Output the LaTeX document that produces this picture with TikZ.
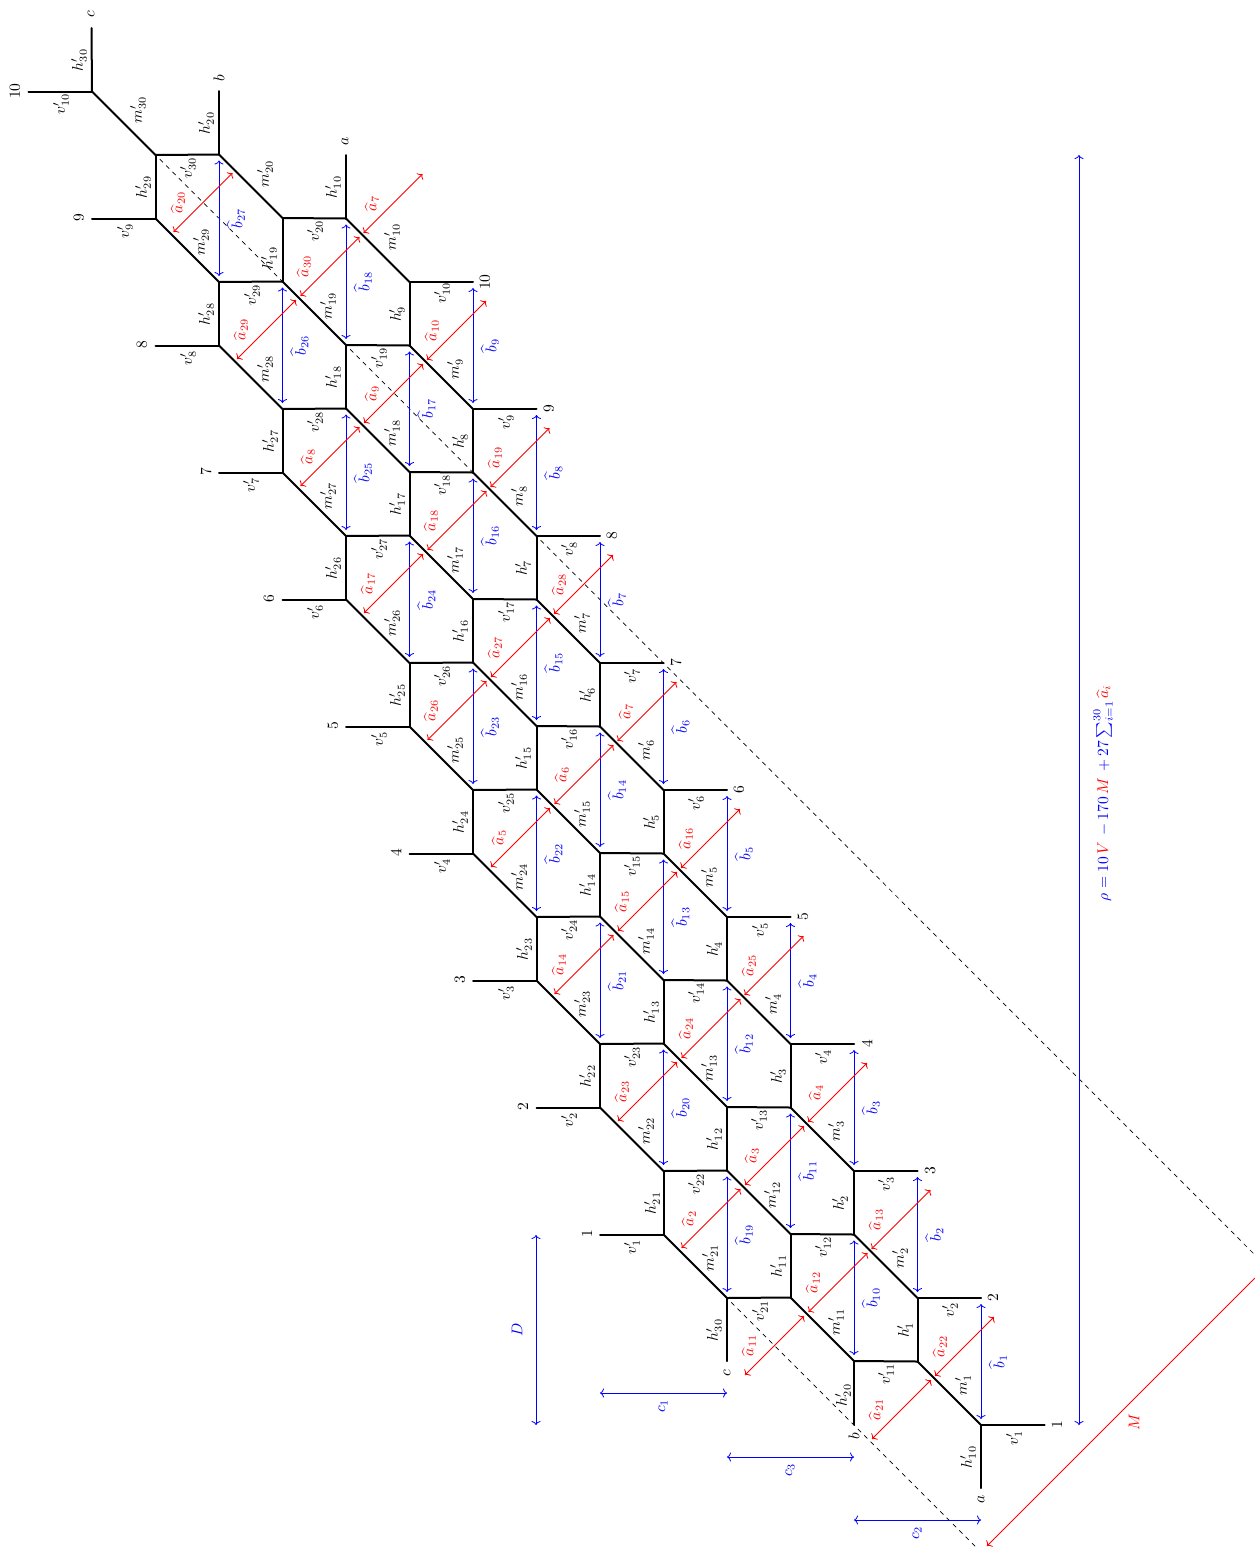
\documentclass[tikz,border=0pt]{standalone}
\usepackage{amsmath}
\usetikzlibrary{arrows.meta}
\tikzset{
  lab/.style={rotate=90,scale=1.55,inner sep=0pt},
  rlab/.style={lab,text=red},
  blab/.style={lab,text=blue},
  hedge/.style={line width=2pt,line cap=round},
  dimln/.style={line width=0.8pt,{To[length=4pt,width=9pt]}-{To[length=4pt,width=9pt]}},
  barr/.style={dimln,draw=blue,shorten >=6pt,shorten <=6pt},
  bdim/.style={dimln,draw=blue},
  rarr/.style={dimln,draw=red},
  dashln/.style={line width=0.7pt,dash pattern=on 4.48pt off 4.48pt}
}
\begin{document}
\begin{tikzpicture}[x=1pt,y=-1pt]
\useasboundingbox (0,0) rectangle (1255,1548);
% lattice
\foreach \i in {1,...,10}{
  \coordinate (PA\i) at ({981-63.5*(\i-1)},{1425-127*(\i-1)});
  \coordinate (QA\i) at ({981-63.5*\i},{1361.5-127*(\i-1)});
  \coordinate (EA\i) at ({1044.5-63.5*(\i-1)},{1425-127*(\i-1)});
  \coordinate (PB\i) at ({854-63.5*(\i-1)},{1361-127*(\i-1)});
  \coordinate (QB\i) at ({854-63.5*\i},{1297.5-127*(\i-1)});
  \coordinate (PC\i) at ({727-63.5*(\i-1)},{1298-127*(\i-1)});
  \coordinate (QC\i) at ({727-63.5*\i},{1234.5-127*(\i-1)});
  \coordinate (LC\i) at ({663.5-63.5*\i},{1234.5-127*(\i-1)});
}
\coordinate (TA) at (346,155);
\coordinate (TB) at (219,91);
\coordinate (TC) at (91.5,28);
\coordinate (BA) at (981,1488);
\coordinate (BB) at (854,1424.5);
\coordinate (BC) at (727,1361);
% honeycomb
\foreach \i in {1,...,10}{
  \draw[hedge] (PA\i) -- (QA\i);
  \draw[hedge] (PB\i) -- (QB\i);
  \draw[hedge] (PC\i) -- (QC\i);
  \draw[hedge] (PA\i) -- (EA\i);
  \draw[hedge] (PB\i) -- (QA\i);
  \draw[hedge] (PC\i) -- (QB\i);
  \draw[hedge] (QC\i) -- (LC\i);
}
\foreach \i in {1,...,9}{
  \pgfmathtruncatemacro\j{\i+1}
  \draw[hedge] (QA\i) -- (PA\j);
  \draw[hedge] (QB\i) -- (PB\j);
  \draw[hedge] (QC\i) -- (PC\j);
}
\draw[hedge] (QA10) -- (TA);
\draw[hedge] (QB10) -- (TB);
\draw[hedge] (QC10) -- (TC);
\draw[hedge] (PA1) -- (BA);
\draw[hedge] (PB1) -- (BB);
\draw[hedge] (PC1) -- (BC);
% dashed
\coordinate (DE3) at (1255,1255);
\coordinate (DE4) at (977,1548);
\draw[dashln,shorten <=6pt] (PC10) -- (QB9);
\draw[dashln,shorten <=6pt] (PB9) -- (QA8);
\draw[dashln,shorten <=6pt] (PA8) -- (DE3);
\draw[dashln,shorten <=6pt] (PC1) -- (DE4);
% blue arrows
\foreach \i [count=\n from 1] in {1,...,9}{
  \pgfmathtruncatemacro\j{\i+1}
  \pgfmathtruncatemacro\t{\i}
  \pgfmathtruncatemacro\u{\i+9}
  \pgfmathtruncatemacro\v{\i+18}
  \draw[barr] (PA\i) -- (EA\j) node[midway,xshift=17pt,blab,name=bh\t] {$\widehat{b}_{\t}$};
  \draw[barr] (PB\i) -- (QA\j) node[midway,xshift=17pt,blab,name=bh\u] {$\widehat{b}_{\u}$};
  \draw[barr] (PC\i) -- (QB\j) node[midway,xshift=17pt,blab,name=bh\v] {$\widehat{b}_{\v}$};
}
% red arrows
\foreach \t/\lx [count=\k from 0] in {22/940,13/876,4/816,25/749,16/686,7/626,28/559,19/495,10/432,7/372}{
  \coordinate (RAs\k) at ({964.5-63.5*\k-29.5},{1346.5-127*\k+29.5});
  \coordinate (RAe\k) at ({964.5-63.5*\k+29.5},{1346.5-127*\k-29.5});
  \draw[rarr] (RAs\k) -- (RAe\k);
  \node[rlab,name=ra\k] at ({\lx},{1346.5-127*\k}) {$\widehat{a}_{\t}$};
}
\foreach \t/\lx [count=\k from 0] in {21/876,12/813,3/752,24/686,15/622,6/562,27/495,18/431,9/372,30/304}{
  \coordinate (RBs\k) at ({901.5-63.5*\k-29.5},{1409.5-127*\k+29.5});
  \coordinate (RBe\k) at ({901.5-63.5*\k+29.5},{1409.5-127*\k-29.5});
  \draw[rarr] (RBs\k) -- (RBe\k);
  \node[rlab,name=rb\k] at ({\lx},{1409.5-127*\k}) {$\widehat{a}_{\t}$};
}
\foreach \t/\lx [count=\k from 0] in {11/749,2/689,23/622,14/559,5/499,26/431,17/368,8/308,29/241,20/178}{
  \coordinate (RCs\k) at ({774.5-63.5*\k-29.5},{1345.5-127*\k+29.5});
  \coordinate (RCe\k) at ({774.5-63.5*\k+29.5},{1345.5-127*\k-29.5});
  \draw[rarr] (RCs\k) -- (RCe\k);
  \node[rlab,name=rc\k] at ({\lx},{1345.5-127*\k}) {$\widehat{a}_{\t}$};
}
% h labels
\foreach \t/\x/\y [count=\n] in {1/905/1330,2/840/1203,3/778/1076,4/714/949,5/651/822,6/587/695,7/523/568,8/460/441,9/397/314,10/968/1457,10/333/187,
 11/778/1266,12/714/1139,13/651/1012,14/587/885,15/523/758,16/460/631,17/397/504,18/333/377,19/269/258,20/843/1395,20/206/123,
 21/652/1203,22/587/1076,23/524/949,24/460/822,25/397/695,26/333/568,27/270/441,28/206/314,29/143/187,30/714/1330,30/79/60}
  \node[lab,name=h\n] at (\x,\y) {$h'_{\t}$};
% v labels
\foreach \t/\x/\y [count=\n] in {1/1014/1438,1/632/1247,2/950/1310,2/569/1120,3/886/1184,3/506/993,4/823/1057,4/442/866,5/760/930,5/379/739,6/696/803,6/315/612,7/632/676,7/251/485,8/569/549,8/188/358,9/506/422,9/125/231,10/442/293,10/61/104,
 11/886/1374,12/823/1247,13/759/1120,14/696/993,15/632/866,16/569/739,17/506/612,18/442/485,19/379/358,20/315/231,
 21/760/1311,22/696/1184,23/632/1057,24/569/930,25/506/803,26/442/676,27/379/549,28/315/422,29/252/295,30/188/168}
  \node[lab,name=v\n] at (\x,\y) {$v'_{\t}$};
% m labels
\foreach \t/\x/\y [count=\n] in {1/963/1385,2/900/1258,3/836/1131,4/773/1004,5/709/877,6/646/750,7/582/623,8/519/496,9/455/369,10/392/237,
 11/836/1322,12/772/1195,13/709/1068,14/646/941,15/582/814,16/519/687,17/455/560,18/392/433,19/328/306,20/265/174,
 21/710/1258,22/646/1131,23/582/1004,24/519/877,25/455/750,26/392/623,27/328/496,28/265/369,29/201/242,30/138/110}
  \node[lab,name=m\n] at (\x,\y) {$m'_{\t}$};
% numbers
\foreach \t/\x/\y [count=\n] in {1/1057/1425,2/993/1298,3/930/1171,4/867/1044,5/803/917,6/739/790,7/676/663,8/612/536,9/549/409,10/485/282,
 1/587/1234,2/523/1107,3/460/980,4/396/853,5/333/726,6/269/599,7/206/472,8/142/345,9/79/218,10/15/91}
  \node[lab,name=num\n] at (\x,\y) {\t};
% letters
\foreach \t/\x/\y [count=\n] in {a/981/1499,a/345/141,b/854/1436,b/219/78,c/727/1373,c/91/14}
  \node[lab,name=let\n] at (\x,\y) {$\t$};
% dimensions
\coordinate (rhoT) at (1079,155);
\coordinate (rhoB) at (1079,1425);
\draw[bdim] (rhoT) -- (rhoB);
\node[blab,name=rho] at (1103,793) {$\rho=10\,{\color{red}V}\,-170\,{\color{red}M}\,+27\sum_{i=1}^{30}{\color{red}\widehat{a}_i}$};
\coordinate (DT) at (536,1235);
\coordinate (DB) at (536,1425);
\draw[bdim] (DT) -- (DB);
\node[blab,name=Dl] at (517,1330) {$D$};
\coordinate (c1a) at (600,1393);
\coordinate (c1b) at (727,1393);
\draw[bdim] (c1a) -- (c1b);
\node[blab,name=c1l] at (663,1406) {$c_1$};
\coordinate (c3a) at (727,1457);
\coordinate (c3b) at (854,1457);
\draw[bdim] (c3a) -- (c3b);
\node[blab,name=c3l] at (790,1470) {$c_3$};
\coordinate (c2a) at (854,1520);
\coordinate (c2b) at (981,1520);
\draw[bdim] (c2a) -- (c2b);
\node[blab,name=c2l] at (917,1533) {$c_2$};
\coordinate (Ma) at (987,1546);
\coordinate (Mb) at (1255,1278);
\draw[line width=0.8pt,draw=red,{To[length=4pt,width=9pt]}-] (Ma) -- (Mb);
\node[rlab,name=Ml] at (1134,1422) {$M$};
\end{tikzpicture}
\end{document}
